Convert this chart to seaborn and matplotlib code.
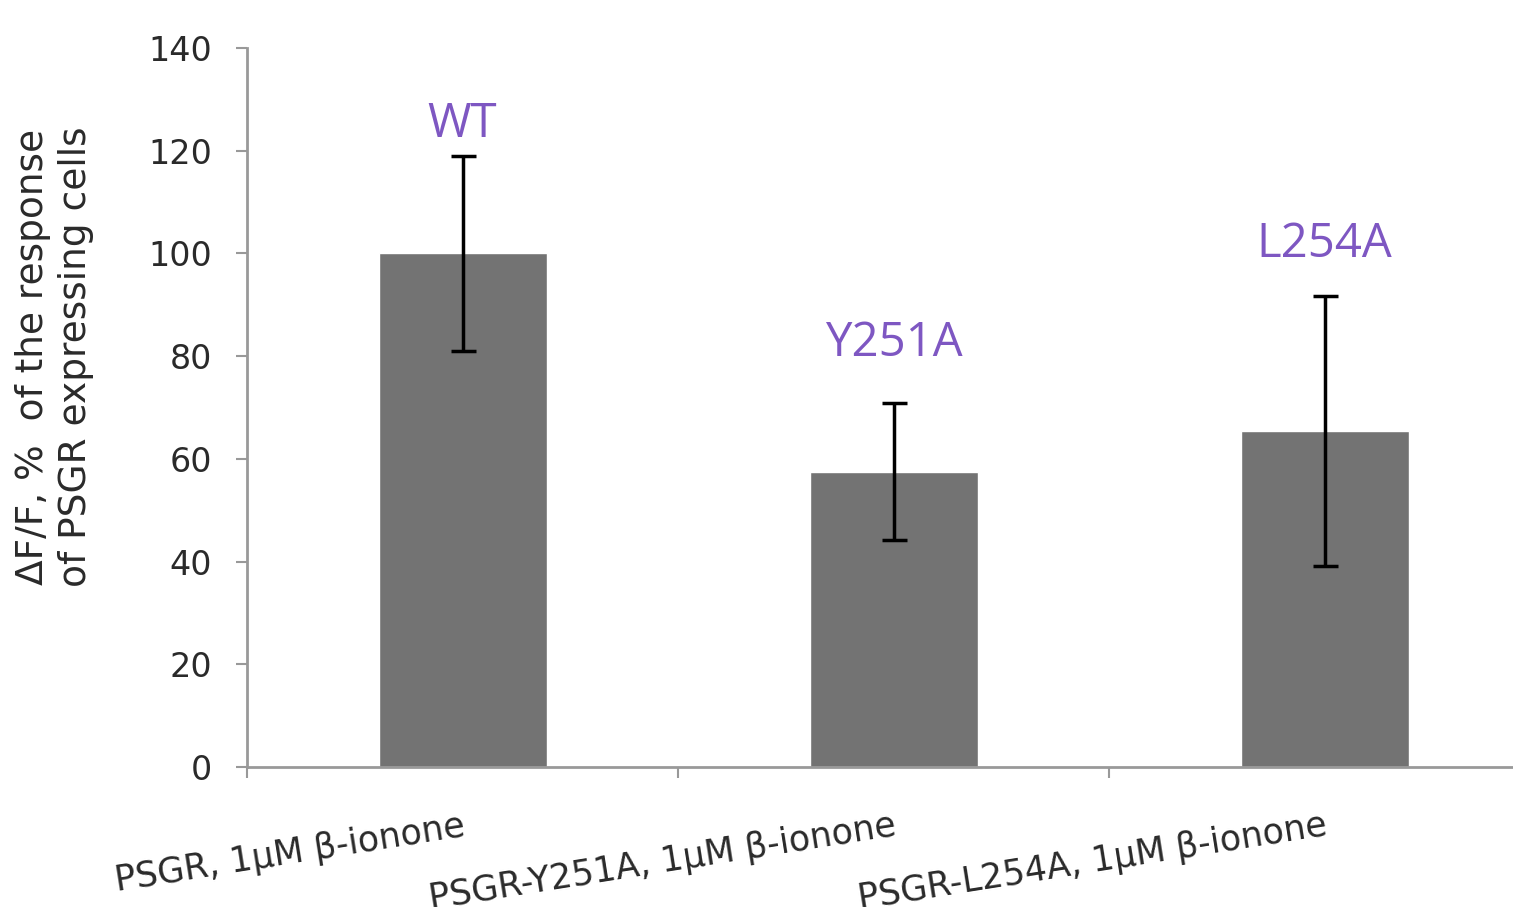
import matplotlib
matplotlib.use("Agg")
import matplotlib.pyplot as plt
import numpy as np
import pandas as pd
import seaborn as sns

# data
conditions = ["PSGR, 1\u00b5M \u03b2-ionone",
              "PSGR-Y251A, 1\u00b5M \u03b2-ionone",
              "PSGR-L254A, 1\u00b5M \u03b2-ionone"]
variants = ["WT", "Y251A", "L254A"]
response = [100.0, 57.5, 65.5]
response_err = [19.0, 13.3, 26.3]
y_ticks = [0, 20, 40, 60, 80, 100, 120, 140]

sns.set_theme(style="white")
plt.rcParams["font.family"] = ["DejaVu Sans"]

df = pd.DataFrame({"condition": conditions, "response": response})

fig = plt.figure(figsize=(15.13, 9.07), dpi=100)
ax = fig.add_axes([0.1633, 0.1544, 0.8546, 0.7927])

sns.barplot(data=df, x="condition", y="response", color="#737373",
            saturation=1, width=0.39, ax=ax, errorbar=None)

x = np.arange(len(conditions))
ax.errorbar(x, response, yerr=response_err, fmt="none", ecolor="black",
            elinewidth=2.5, capsize=9, capthick=2.5)

offsets = [1.5, 7, 5.4]
for xi, m, e, name, off in zip(x, response, response_err, variants, offsets):
    ax.text(xi, m + e + off, name, ha="center", va="bottom",
            fontsize=34, color="#7E57C2", family=["Open Sans", "DejaVu Sans"])

ax.set_xlim(-0.5, 2.5)
ax.set_ylim(0, 140)
ax.set_yticks(y_ticks)
ax.set_xticks(x)
ax.set_xticks([-0.5, 0.5, 1.5, 2.5], minor=True)
ax.set_xticklabels(conditions, rotation=9, ha="right", rotation_mode="anchor",
                   fontsize=25, color="#2a2a2a")
ax.tick_params(axis="x", which="major", length=0, pad=30)
ax.tick_params(axis="x", which="minor", length=8, width=1.5, color="#999999",
               direction="out", bottom=True)
ax.tick_params(axis="y", length=8, width=1.5, color="#999999", direction="out",
               left=True, pad=17, labelsize=24, labelcolor="#2a2a2a")

for s in ["top", "right"]:
    ax.spines[s].set_visible(False)
for s in ["left", "bottom"]:
    ax.spines[s].set_color("#999999")
    ax.spines[s].set_linewidth(2)

ax.set_xlabel("")
ax.set_ylabel("\u0394F/F, %  of the response\nof PSGR expressing cells",
              fontsize=27, color="#2a2a2a", linespacing=1.25)
ax.yaxis.set_label_coords(-0.118, 0.57)

fig.savefig("out.png", dpi=100)
